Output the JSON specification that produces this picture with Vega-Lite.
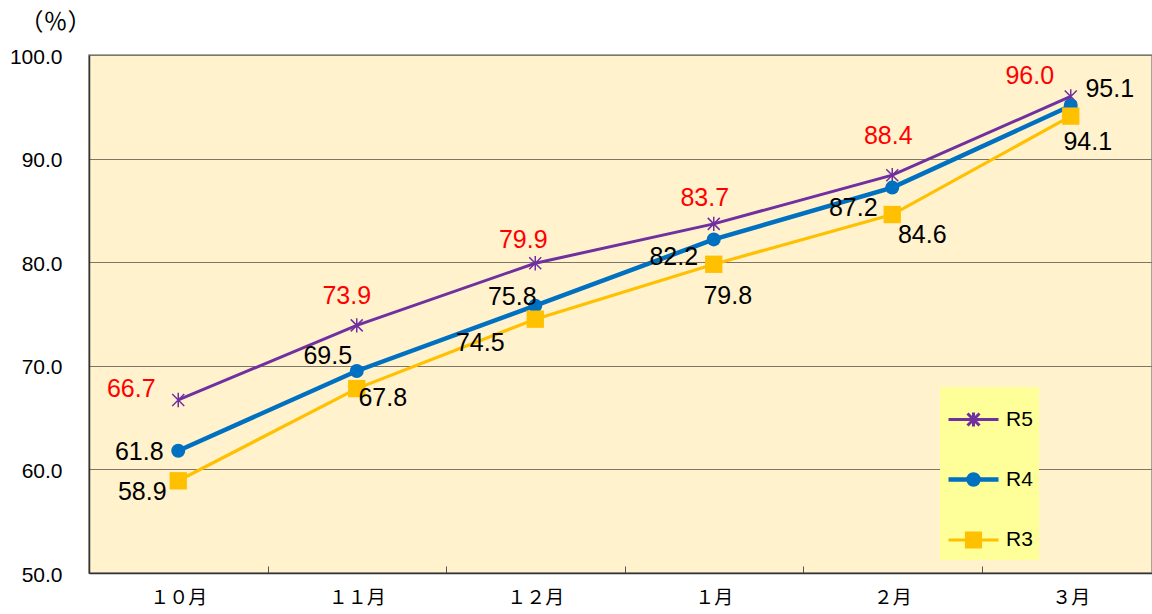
{
  "$schema": "https://vega.github.io/schema/vega-lite/v6.json",
  "width": 1063,
  "height": 518,
  "autosize": {"type": "none"},
  "padding": {"left": 89, "top": 55, "right": 0, "bottom": 41},
  "background": "white",
  "config": {
    "view": {"fill": "#FFF2CC", "stroke": "#8a8a8a", "strokeWidth": 1.5},
    "font": "Liberation Sans"
  },
  "data": {
    "values": [
      {"month": "１０月", "series": "R5", "value": 66.7},
      {"month": "１１月", "series": "R5", "value": 73.9},
      {"month": "１２月", "series": "R5", "value": 79.9},
      {"month": "１月", "series": "R5", "value": 83.7},
      {"month": "２月", "series": "R5", "value": 88.4},
      {"month": "３月", "series": "R5", "value": 96.0},
      {"month": "１０月", "series": "R4", "value": 61.8},
      {"month": "１１月", "series": "R4", "value": 69.5},
      {"month": "１２月", "series": "R4", "value": 75.8},
      {"month": "１月", "series": "R4", "value": 82.2},
      {"month": "２月", "series": "R4", "value": 87.2},
      {"month": "３月", "series": "R4", "value": 95.1},
      {"month": "１０月", "series": "R3", "value": 58.9},
      {"month": "１１月", "series": "R3", "value": 67.8},
      {"month": "１２月", "series": "R3", "value": 74.5},
      {"month": "１月", "series": "R3", "value": 79.8},
      {"month": "２月", "series": "R3", "value": 84.6},
      {"month": "３月", "series": "R3", "value": 94.1}
    ]
  },
  "encoding": {
    "x": {
      "field": "month", "type": "ordinal",
      "sort": ["１０月", "１１月", "１２月", "１月", "２月", "３月"],
      "scale": {"range": [0, 1071], "paddingInner": 0, "paddingOuter": 0},
      "axis": {
        "title": null, "labelAngle": 0, "grid": false,
        "tickBand": "extent", "tickSize": -7, "tickColor": "#555555", "tickWidth": 1,
        "domainColor": "#333333", "domainWidth": 1.5,
        "labelFont": "Noto Sans CJK JP", "labelFontSize": 19, "labelColor": "#000000",
        "labelPadding": 22
      }
    },
    "y": {
      "field": "value", "type": "quantitative",
      "scale": {"domain": [50, 100], "nice": false, "zero": false},
      "axis": {
        "values": [50, 60, 70, 80, 90, 100], "format": ".1f",
        "ticks": false, "labelPadding": 27, "labelFontSize": 21, "labelColor": "#000000",
        "labelFont": "Liberation Sans", "labelOffset": 2,
        "domainColor": "#333333", "domainWidth": 1.5,
        "grid": true, "gridColor": "#7d7668", "gridWidth": 1,
        "title": "（％）", "titleAngle": 0, "titleX": -34, "titleY": -33,
        "titleAlign": "center", "titleBaseline": "middle",
        "titleFont": "Noto Sans CJK JP", "titleFontSize": 24, "titleFontWeight": "normal", "titleColor": "#000000"
      }
    }
  },
  "layer": [
    {
      "mark": {"type": "line"},
      "encoding": {
        "color": {
          "field": "series", "type": "nominal",
          "scale": {"domain": ["R5", "R4", "R3"], "range": ["#7030A0", "#0070C0", "#FFC000"]},
          "legend": {
            "title": null, "orient": "none", "legendX": 851, "legendY": 332,
            "fillColor": "#FFFF99", "padding": 6, "rowPadding": 19,
            "symbolSize": 2500, "labelOffset": 5,
            "labelFont": "Liberation Sans", "labelFontSize": 21, "labelColor": "#000000",
            "encode": {
              "symbols": {
                "update": {
                  "shape": {"signal": "datum.value == 'R5' ? 'M-1,0L1,0M-0.24,-0.24L0.24,0.24M-0.24,0.24L0.24,-0.24M0,-0.28L0,0.28' : datum.value == 'R4' ? 'M-1,0L1,0M-0.2,0A0.2,0.2 0 1,0 0.2,0A0.2,0.2 0 1,0 -0.2,0Z' : 'M-1,0L1,0M-0.28,-0.28L0.28,-0.28L0.28,0.28L-0.28,0.28Z'"},
                  "fill": {"signal": "datum.value == 'R5' ? 'transparent' : datum.value == 'R4' ? '#0070C0' : '#FFC000'"},
                  "stroke": {"signal": "datum.value == 'R5' ? '#7030A0' : datum.value == 'R4' ? '#0070C0' : '#FFC000'"},
                  "strokeWidth": {"signal": "datum.value == 'R4' ? 4.5 : 3"}
                }
              }
            }
          }
        },
        "strokeWidth": {
          "field": "series", "type": "nominal",
          "scale": {"type": "ordinal", "domain": ["R5", "R4", "R3"], "range": [3, 4.5, 3.2]},
          "legend": null
        }
      }
    },
    {
      "transform": [{"filter": "datum.series == 'R5'"}],
      "mark": {"type": "point", "shape": "M-1,-1L1,1M-1,1L1,-1M0,-1.2L0,1.2", "filled": false, "stroke": "#7030A0", "strokeWidth": 1.5, "size": 144, "opacity": 1}
    },
    {
      "transform": [{"filter": "datum.series == 'R4'"}],
      "mark": {"type": "point", "shape": "circle", "filled": true, "fill": "#0070C0", "size": 196, "opacity": 1}
    },
    {
      "transform": [{"filter": "datum.series == 'R3'"}],
      "mark": {"type": "point", "shape": "square", "filled": true, "fill": "#FFC000", "size": 300, "opacity": 1}
    },
    {
      "encoding": {
        "text": {"field": "value", "type": "quantitative", "format": ".1f"}
      },
      "layer": [
        {"transform": [{"filter": "datum.series == 'R5' && datum.month == '１０月'"}], "mark": {"type": "text", "fontSize": 25, "fill": "#FF0000", "dx": -47, "dy": -11}},
        {"transform": [{"filter": "datum.series == 'R5' && datum.month == '１１月'"}], "mark": {"type": "text", "fontSize": 25, "fill": "#FF0000", "dx": -10, "dy": -29}},
        {"transform": [{"filter": "datum.series == 'R5' && datum.month == '１２月'"}], "mark": {"type": "text", "fontSize": 25, "fill": "#FF0000", "dx": -12, "dy": -23}},
        {"transform": [{"filter": "datum.series == 'R5' && datum.month == '１月'"}], "mark": {"type": "text", "fontSize": 25, "fill": "#FF0000", "dx": -9, "dy": -26}},
        {"transform": [{"filter": "datum.series == 'R5' && datum.month == '２月'"}], "mark": {"type": "text", "fontSize": 25, "fill": "#FF0000", "dx": -4, "dy": -39}},
        {"transform": [{"filter": "datum.series == 'R5' && datum.month == '３月'"}], "mark": {"type": "text", "fontSize": 25, "fill": "#FF0000", "dx": -41, "dy": -20}},
        {"transform": [{"filter": "datum.series == 'R4' && datum.month == '１０月'"}], "mark": {"type": "text", "fontSize": 25, "fill": "#000000", "dx": -39, "dy": 1}},
        {"transform": [{"filter": "datum.series == 'R4' && datum.month == '１１月'"}], "mark": {"type": "text", "fontSize": 25, "fill": "#000000", "dx": -29, "dy": -15}},
        {"transform": [{"filter": "datum.series == 'R4' && datum.month == '１２月'"}], "mark": {"type": "text", "fontSize": 25, "fill": "#000000", "dx": -23, "dy": -9}},
        {"transform": [{"filter": "datum.series == 'R4' && datum.month == '１月'"}], "mark": {"type": "text", "fontSize": 25, "fill": "#000000", "dx": -40, "dy": 18}},
        {"transform": [{"filter": "datum.series == 'R4' && datum.month == '２月'"}], "mark": {"type": "text", "fontSize": 25, "fill": "#000000", "dx": -39, "dy": 20}},
        {"transform": [{"filter": "datum.series == 'R4' && datum.month == '３月'"}], "mark": {"type": "text", "fontSize": 25, "fill": "#000000", "dx": 39, "dy": -17}},
        {"transform": [{"filter": "datum.series == 'R3' && datum.month == '１０月'"}], "mark": {"type": "text", "fontSize": 25, "fill": "#000000", "dx": -36, "dy": 11}},
        {"transform": [{"filter": "datum.series == 'R3' && datum.month == '１１月'"}], "mark": {"type": "text", "fontSize": 25, "fill": "#000000", "dx": 26, "dy": 9}},
        {"transform": [{"filter": "datum.series == 'R3' && datum.month == '１２月'"}], "mark": {"type": "text", "fontSize": 25, "fill": "#000000", "dx": -55, "dy": 24}},
        {"transform": [{"filter": "datum.series == 'R3' && datum.month == '１月'"}], "mark": {"type": "text", "fontSize": 25, "fill": "#000000", "dx": 14, "dy": 32}},
        {"transform": [{"filter": "datum.series == 'R3' && datum.month == '２月'"}], "mark": {"type": "text", "fontSize": 25, "fill": "#000000", "dx": 30, "dy": 20}},
        {"transform": [{"filter": "datum.series == 'R3' && datum.month == '３月'"}], "mark": {"type": "text", "fontSize": 25, "fill": "#000000", "dx": 17, "dy": 26}}
      ]
    }
  ]
}
